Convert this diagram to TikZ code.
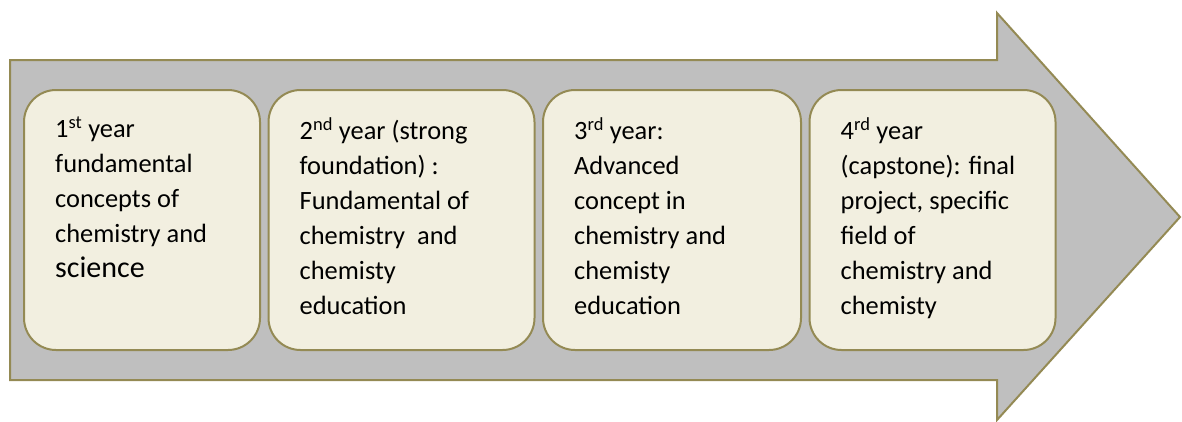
\documentclass[tikz,border=0pt]{standalone}
\usepackage{fontspec}
\setmainfont{Carlito}
\usetikzlibrary{positioning}
\definecolor{olivebrd}{RGB}{148,138,84}
\definecolor{arrowgray}{RGB}{191,191,191}
\definecolor{stagefill}{RGB}{242,239,224}

\begin{document}
\begin{tikzpicture}[
  x=1pt, y=-1pt,
  node distance=6.5pt,
  stage/.style={draw=olivebrd, fill=stagefill, line width=2pt, rounded corners=32pt, minimum height=260pt, inner sep=0pt},
  stagetext/.style={font=\fontsize{26.4}{35}\selectfont, align=left, anchor=north west, inner sep=0pt},
]
\useasboundingbox (0,0) rectangle (1182,421);

% big process arrow
\draw[draw=olivebrd, fill=arrowgray, line width=2pt]
  (10,60) -- (997,60) -- (997,13) -- (1180,217) -- (997,420) -- (997,380) -- (10,380) -- cycle;

% one box per study year
\node[stage, minimum width=236pt] (y1) at (142,220) {};
\node[stage, minimum width=266pt, right=of y1] (y2) {};
\node[stage, minimum width=258pt, right=of y2] (y3) {};
\node[stage, minimum width=246pt, right=of y3] (y4) {};

\node[stagetext] (t1) at ([shift={(32,28)}]y1.north west)
  {1\textsuperscript{st} year\\fundamental\\concepts of\\chemistry and\\{\fontsize{30}{35}\selectfont science}};
\node[stagetext] (t2) at ([shift={(32,28)}]y2.north west)
  {2\textsuperscript{nd} year (strong\\foundation) :\\Fundamental of\\chemistry\ \ and\\chemisty\\education};
\node[stagetext] (t3) at ([shift={(32,28)}]y3.north west)
  {3\textsuperscript{rd} year:\\Advanced\\concept in\\chemistry and\\chemisty\\education};
\node[stagetext] (t4) at ([shift={(32,28)}]y4.north west)
  {4\textsuperscript{rd} year\\(capstone): final\\project, specific\\field of\\chemistry and\\chemisty};
\end{tikzpicture}
\end{document}
